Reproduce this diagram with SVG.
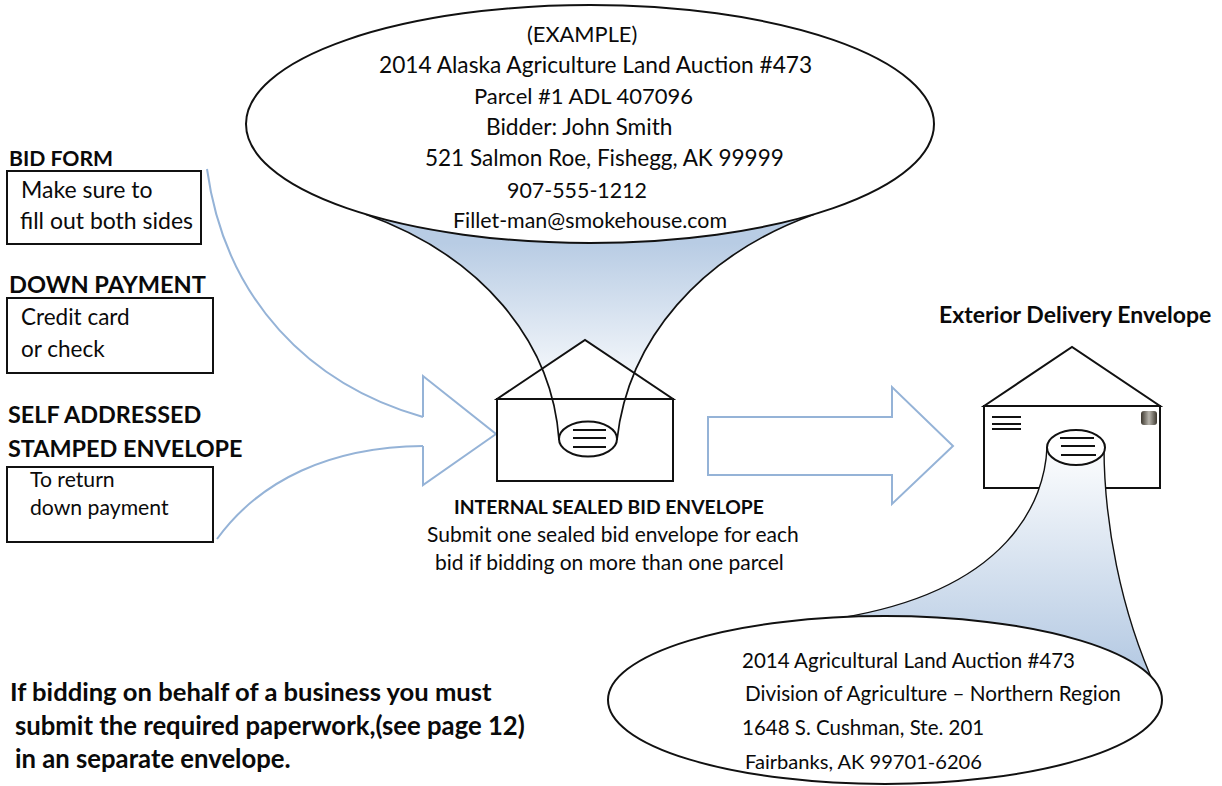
<svg xmlns="http://www.w3.org/2000/svg" width="1222" height="786" viewBox="0 0 1222 786">
<defs>
<linearGradient id="fa" gradientUnits="userSpaceOnUse" x1="0" y1="243" x2="0" y2="400"><stop offset="0" stop-color="#b8cce4"/><stop offset="1" stop-color="#ffffff"/></linearGradient>
<linearGradient id="fb" gradientUnits="userSpaceOnUse" x1="0" y1="660" x2="0" y2="440"><stop offset="0" stop-color="#b8cce4"/><stop offset="1" stop-color="#ffffff"/></linearGradient>
<linearGradient id="stamp" x1="0" y1="0" x2="1" y2="0"><stop offset="0" stop-color="#3c372e"/><stop offset="0.5" stop-color="#b8b5ad"/><stop offset="1" stop-color="#3c372e"/></linearGradient>
</defs>
<style>
text{font-family:"Lato","Open Sans","Liberation Sans",sans-serif;font-size:22.500px;fill:#0a0a0a}
.b{font-weight:700}
.s{fill:none;stroke:#111;stroke-width:2}
.w{fill:#fff;stroke:#111;stroke-width:2}
.t{fill:none;stroke:#95b3d7;stroke-width:2}
.e{fill:none;stroke:#111;stroke-width:1.700}
</style>
<rect width="1222" height="786" fill="#fff"/>
<g id="funnel-top-fill"><path d="M365 214C480 255 552 340 559 440L617 440C628 340 700 255 815 214L590 200Z" fill="url(#fa)"/></g>
<g id="connectors">
<path class="t" d="M207 169C225 300 310 385 423 417"/>
<path class="t" d="M217 539C260 480 330 447 423 446"/>
<path class="t" d="M423 417V376L496 434L423 485V446"/>
<path class="t" d="M708 417H892V387L953 446L892 504V475H708Z"/>
</g>
<g id="internal-envelope">
<rect class="w" x="497" y="399" width="176" height="82"/>
<path class="w" d="M497 399L585 340L673 399Z"/>
<path class="e" d="M365 214C480 255 552 340 559 440M815 214C700 255 628 340 617 440"/>
<ellipse class="w" cx="588" cy="439" rx="29" ry="17.500"/>
<path class="s" d="M573 430H606M573 438H606M573 447H606"/>
<text class="b" x="454" y="514" style="font-size:19.300px">INTERNAL SEALED BID ENVELOPE</text>
<text x="427" y="542" style="font-size:21px">Submit one sealed bid envelope for each</text>
<text x="435" y="570" style="font-size:21px">bid if bidding on more than one parcel</text>
</g>
<g id="bubble-top">
<ellipse class="w" cx="590" cy="124" rx="344" ry="119"/>
<text x="527" y="42" style="font-size:21.800px">(EXAMPLE)</text>
<text x="379" y="73" style="font-size:22.700px">2014 Alaska Agriculture Land Auction #473</text>
<text x="474" y="104" style="font-size:22px">Parcel #1 ADL 407096</text>
<text x="486" y="135" style="font-size:22.700px">Bidder: John Smith</text>
<text x="425" y="166">521 Salmon Roe, Fishegg, AK 99999</text>
<text x="507" y="198" style="font-size:21.400px">907-555-1212</text>
<text x="453" y="228" style="font-size:21.400px">Fillet-man@smokehouse.com</text>
</g>
<g id="bid-form">
<text class="b" x="9" y="166" style="font-size:21.200px">BID FORM</text>
<rect class="s" x="7" y="171" width="194" height="73"/>
<text x="21" y="198" style="font-size:23px">Make sure to</text>
<text x="20" y="229" style="font-size:23px">fill out both sides</text>
</g>
<g id="down-payment">
<text class="b" x="9" y="293" style="font-size:23.600px">DOWN PAYMENT</text>
<rect class="s" x="7" y="298" width="206" height="75"/>
<text x="21" y="325">Credit card</text>
<text x="21" y="357">or check</text>
</g>
<g id="self-addressed">
<text class="b" x="8" y="423" style="font-size:23.400px">SELF ADDRESSED</text>
<text class="b" x="8" y="457" style="font-size:23.400px">STAMPED ENVELOPE</text>
<rect class="s" x="7" y="467" width="206" height="75"/>
<text x="30" y="487" style="font-size:21.200px">To return</text>
<text x="30" y="515" style="font-size:21.200px">down payment</text>
</g>
<g id="exterior-envelope">
<text class="b" x="939" y="323" style="font-size:23px">Exterior Delivery Envelope</text>
<rect class="w" x="984" y="406" width="176" height="82"/>
<path class="w" d="M984 406L1072 347L1160 406Z"/>
<path class="s" d="M992 417H1021M992 424H1021M992 429H1021"/>
<rect x="1141" y="411" width="16" height="14" rx="3" fill="url(#stamp)"/>
</g>
<g id="funnel-bottom"><path d="M1047 447C1045 500 1010 590 840 618L1000 680L1156 688C1120 610 1104 520 1104 447Z" fill="url(#fb)"/>
<path d="M1047 447C1045 500 1010 590 840 618M1156 688C1120 610 1104 520 1104 447" fill="none" stroke="#111" stroke-width="1.400"/></g>
<g id="delivery-label">
<ellipse class="w" cx="1076" cy="447.500" rx="29" ry="17.500"/>
<path class="s" d="M1060 438H1094M1061 446H1095M1061 455H1096"/>
</g>
<g id="bubble-bottom">
<ellipse class="w" cx="885" cy="700" rx="277" ry="84"/>
<text x="742" y="668" style="font-size:20.500px">2014 Agricultural Land Auction #473</text>
<text x="745" y="701" style="font-size:20.700px">Division of Agriculture – Northern Region</text>
<text x="742" y="735" style="font-size:20.500px">1648 S. Cushman, Ste. 201</text>
<text x="745" y="769" style="font-size:20.100px">Fairbanks, AK 99701-6206</text>
</g>
<g id="business-note">
<text class="b" x="10" y="701" style="font-size:25.600px">If bidding on behalf of a business you must</text>
<text class="b" x="15" y="735" style="font-size:25.700px">submit the required paperwork,(see page 12)</text>
<text class="b" x="15" y="768" style="font-size:25.700px">in an separate envelope.</text>
</g>
</svg>
